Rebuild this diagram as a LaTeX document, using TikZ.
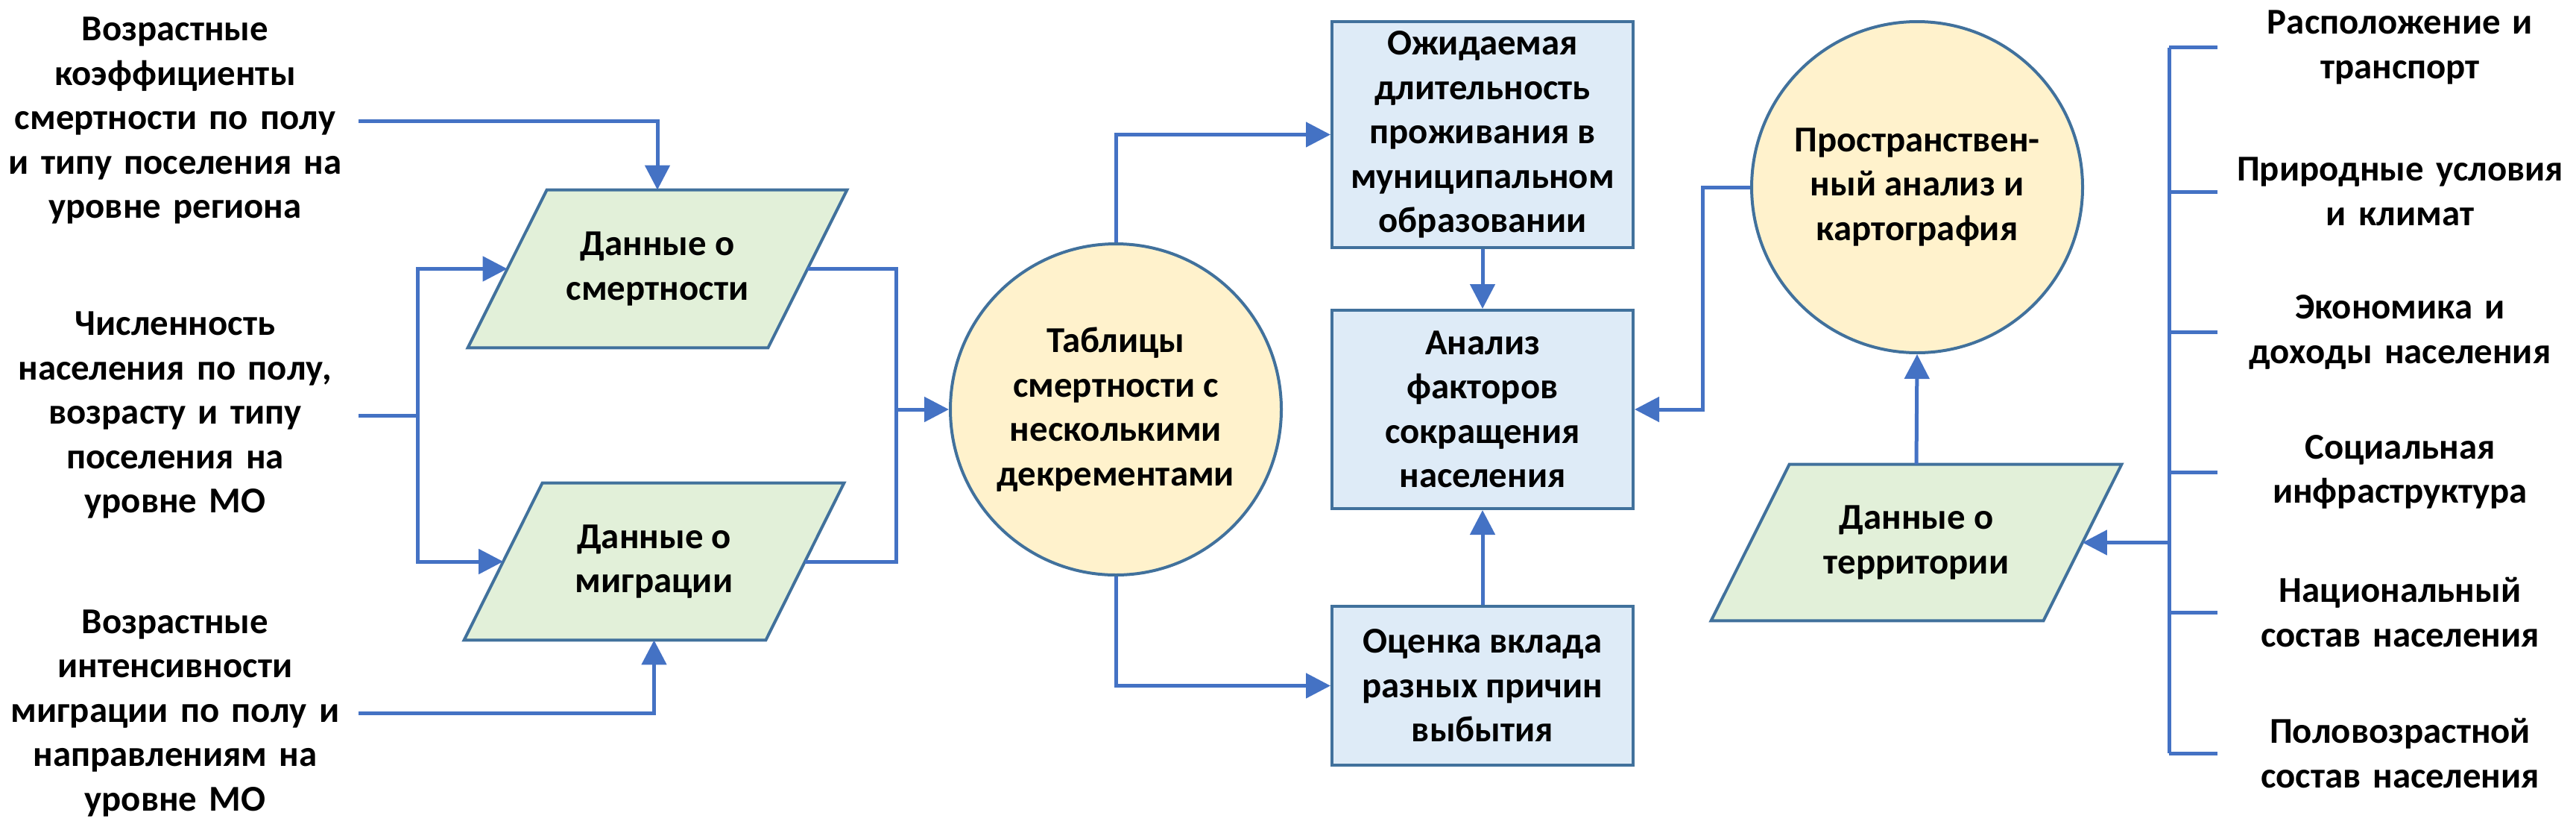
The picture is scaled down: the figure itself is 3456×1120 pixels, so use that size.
\documentclass[tikz,border=0pt]{standalone}
\usepackage{fontspec}
\setmainfont{Carlito}
\usetikzlibrary{arrows.meta,calc,backgrounds}
\definecolor{linkblue}{HTML}{4472C4}
\definecolor{edgeblue}{HTML}{41719C}
\definecolor{boxfill}{HTML}{DEEBF7}
\definecolor{datafill}{HTML}{E2F0D9}
\definecolor{circfill}{HTML}{FFF2CC}
\begin{document}
\begin{tikzpicture}[x=0.5pt,y=-0.5pt,
  font=\fontsize{24.4}{29.75}\selectfont\bfseries,
  lbl/.style={align=center, inner sep=0pt, text width=246pt},
  rlbl/.style={align=center, inner sep=0pt, text width=245pt},
  procbox/.style={draw=edgeblue, line width=2pt, fill=boxfill, minimum width=202pt, align=center, inner sep=0pt},
  circ/.style={circle, draw=edgeblue, line width=2pt, fill=circfill, minimum size=222pt, align=center, inner sep=0pt},
  datatext/.style={align=center, inner sep=0pt},
  datashape/.style={draw=edgeblue, line width=2pt, fill=datafill},
  conn/.style={draw=linkblue, line width=2.5pt},
  arr/.style={conn, -{Triangle[length=16.5pt,width=16.5pt]}},
]
\useasboundingbox (0,0) rectangle (3456,1120);

% left labels
\node[lbl] (t1) at (235,162) {Возрастные\\коэффициенты\\смертности по полу\\и типу поселения на\\уровне региона};
\node[lbl] (t2) at (235,557) {Численность\\населения по полу,\\возрасту и типу\\поселения на\\уровне МО};
\node[lbl] (t3) at (235,956) {Возрастные\\интенсивности\\миграции по полу и\\направлениям на\\уровне МО};

% data parallelograms
\node[datatext, minimum width=254pt, minimum height=105.5pt] (p1) at (882,360.5) {Данные о\\смертности};
\node[datatext, minimum width=254.5pt, minimum height=105pt] (p2) at (877.5,753) {Данные о\\миграции};
\node[datatext, minimum width=275pt, minimum height=104.5pt] (p3) at (2571,727.5) {Данные о\\территории};
\begin{scope}[on background layer]
  \path[datashape] ($(p1.north west)+(106,0)$) -- (p1.north east) -- ($(p1.south east)+(-106,0)$) -- (p1.south west) -- cycle;
  \path[datashape] ($(p2.north west)+(105,0)$) -- (p2.north east) -- ($(p2.south east)+(-105,0)$) -- (p2.south west) -- cycle;
  \path[datashape] ($(p3.north west)+(105,0)$) -- (p3.north east) -- ($(p3.south east)+(-105,0)$) -- (p3.south west) -- cycle;
\end{scope}
\coordinate (p1L) at ($(p1.west)+(53,0)$);
\coordinate (p1R) at ($(p1.east)+(-53,0)$);
\coordinate (p2L) at ($(p2.west)+(52.5,0)$);
\coordinate (p2R) at ($(p2.east)+(-52.5,0)$);
\coordinate (p3R) at ($(p3.east)+(-52.5,0)$);

% circles
\node[circ] (c1) at (1497,549) {Таблицы\\смертности с\\несколькими\\декрементами};
\node[circ] (c2) at (2572,251) {Пространствен-\\ный анализ и\\картография};

% process boxes
\node[procbox, minimum height=151.5pt] (b1) at (1989,180.5) {Ожидаемая\\длительность\\проживания в\\муниципальном\\образовании};
\node[procbox, minimum height=133pt] (b2) at (1989,549) {Анализ\\факторов\\сокращения\\населения};
\node[procbox, minimum height=106.5pt] (b3) at (1989,919.5) {Оценка вклада\\разных причин\\выбытия};

% right labels
\node[rlbl] (r1) at (3220,63.5) {Расположение и\\транспорт};
\node[rlbl] (r2) at (3220,257) {Природные условия\\и климат};
\node[rlbl] (r3) at (3220,445.5) {Экономика и\\доходы населения};
\node[rlbl] (r4) at (3220,633) {Социальная\\инфраструктура};
\node[rlbl] (r5) at (3220,821) {Национальный\\состав населения};
\node[rlbl] (r6) at (3220,1010) {Половозрастной\\состав населения};

% junction coordinates
\coordinate (s2) at (560,557);
\coordinate (m1) at (1202,549);
\coordinate (brx) at (2910,727.5);

% connectors
\draw[arr] (t1.east) -| (p1.north);
\draw[conn] (t2.east) -- (s2);
\draw[arr] (s2) |- (p1L);
\draw[arr] (s2) |- (p2L);
\draw[arr] (t3.east) -| (p2.south);
\draw[conn] (p1R) -| (m1);
\draw[conn] (p2R) -| (m1);
\draw[arr] (m1) -- (c1.west);
\draw[arr] (c1.north) |- (b1.west);
\draw[arr] (c1.south) |- (b3.west);
\draw[arr] (b1.south) -- (b2.north);
\draw[arr] (b3.north) -- (b2.south);
\draw[arr] (c2.west) -- ++(-64,0) |- (b2.east);
\draw[arr] (p3.north) -- (c2.south);
\draw[arr] (brx) -- (p3R);
\draw[conn] (r1.west -| brx) -- (r6.west -| brx);
\foreach \r in {r1,r2,r3,r4,r5,r6} {
  \draw[conn] (\r.west -| brx) -- (\r.west);
}
\end{tikzpicture}
\end{document}
